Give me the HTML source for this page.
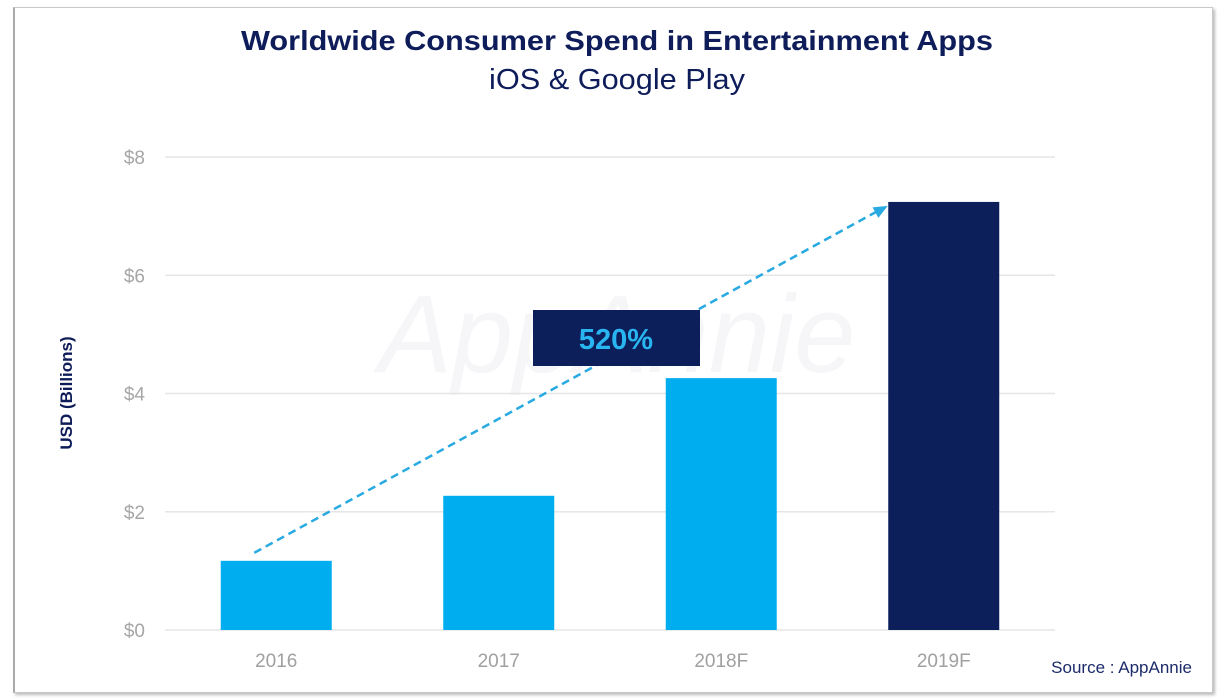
<!DOCTYPE html>
<html><head><meta charset="utf-8"><style>
body{margin:0;width:1225px;height:700px;background:#fff;overflow:hidden;font-family:"Liberation Sans",sans-serif}
#frame{position:absolute;left:13px;top:7px;width:1197px;height:684px;border:1px solid #c8c8c8;border-left:2px solid #aaa;box-shadow:2px 2px 3px #bbb;background:#fff}
</style></head><body>
<div id="frame"></div>
<svg id="chart" width="1225" height="700" style="position:absolute;left:0;top:0">
<text x="617" y="50" text-anchor="middle" font-size="28" font-weight="bold" fill="#0e1d5a" textLength="752" lengthAdjust="spacingAndGlyphs">Worldwide Consumer Spend in Entertainment Apps</text>
<text x="617" y="89" text-anchor="middle" font-size="29" fill="#0e1d5a" textLength="256" lengthAdjust="spacingAndGlyphs">iOS &amp; Google Play</text>
<text transform="translate(72,393) rotate(-90)" text-anchor="middle" font-size="17" font-weight="bold" fill="#0e1d5a">USD (Billions)</text>
<text x="617" y="372" text-anchor="middle" font-size="110" font-style="italic" fill="#f6f6f8">AppAnnie</text>
<g id="grid"></g><g id="bars"></g><g id="xl"></g>
<text x="1192" y="673" text-anchor="end" font-size="17" fill="#1c2b6b">Source : AppAnnie</text>
</svg>
<script>
const categories=["2016","2017","2018F","2019F"];
const values=[1.17,2.27,4.26,7.24];
const colors=["#00aeef","#00aeef","#00aeef","#0c1f5b"];
const yTicks=[0,2,4,6,8];
const yTickLabels=["$0","$2","$4","$6","$8"];
const growthLabel=["520%"];
const ns="http://www.w3.org/2000/svg";
const X0=165,X1=1055,Y0=630,Y8=157;
const y=v=>Y0-(Y0-Y8)*v/8;
const band=(X1-X0)/categories.length;
const xc=i=>X0+band*(i+0.5);
const bw=111;
function mk(t,a,p){const e=document.createElementNS(ns,t);for(const k in a)e.setAttribute(k,a[k]);p.appendChild(e);return e;}
const svg=document.getElementById('chart');
const g=document.getElementById('grid');
yTicks.forEach((t,i)=>{
 const l=mk('line',{x1:X0,x2:X1,y1:y(t),y2:y(t),stroke:'#e6e6e6','stroke-width':1.5},g);
 
 
 const tx=mk('text',{x:145,y:y(t)+7,'text-anchor':'end','font-size':19,fill:'#a6a6a6'},g);
 tx.textContent=yTickLabels[i];
 
 
});
const b=document.getElementById('bars');
values.forEach((v,i)=>{
 const r=mk('rect',{x:xc(i)-bw/2,y:y(v),width:bw,height:Y0-y(v),fill:colors[i]},b);
 
 
 const tx=mk('text',{x:xc(i),y:667,'text-anchor':'middle','font-size':19,fill:'#a0a0a0'},document.getElementById('xl'));
 tx.textContent=categories[i];
 
 
});
const n=values.length-1;
const ax1=xc(0)-22,ay1=y(values[0])-8,ax2=xc(n)-56,ay2=y(values[n])+4;
const ln=mk('line',{x1:ax1,y1:ay1,x2:ax2-8,y2:ay2+4,stroke:'#29aae1','stroke-width':2.5,'stroke-dasharray':'8,5'},svg);


const ang=Math.atan2(ay2-ay1,ax2-ax1);
const hd=mk('polygon',{points:`${ax2},${ay2} ${ax2-14*Math.cos(ang)+6*Math.sin(ang)},${ay2-14*Math.sin(ang)-6*Math.cos(ang)} ${ax2-14*Math.cos(ang)-6*Math.sin(ang)},${ay2-14*Math.sin(ang)+6*Math.cos(ang)}`,fill:'#29aae1'},svg);


const box=mk('rect',{x:533,y:310,width:167,height:56,fill:'#0c1f5b'},svg);


const gt=mk('text',{x:616,y:349,'text-anchor':'middle','font-size':29,'font-weight':'bold',fill:'#29b6f0'},svg);
gt.textContent=growthLabel[0];


</script>
</body></html>
